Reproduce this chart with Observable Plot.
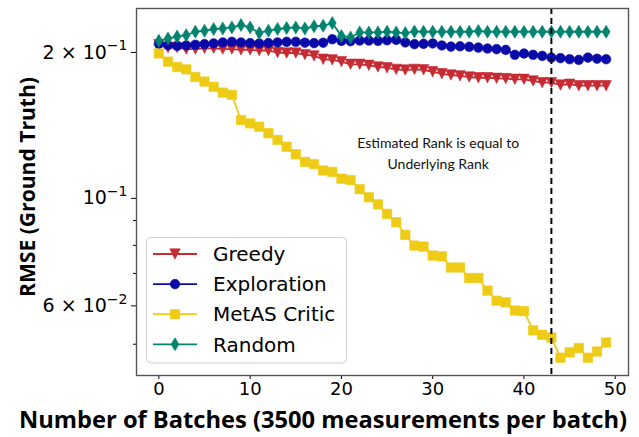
<!DOCTYPE html>
<html><head><meta charset="utf-8">
<script src="https://cdn.jsdelivr.net/npm/d3@7"></script>
<script src="https://cdn.jsdelivr.net/npm/@observablehq/plot@0.6"></script>
<style>
body{margin:0;background:#fff;}
#chart{width:639px;height:437px;}
</style></head><body><div id="chart"></div>
<script>
// ---- data ----
const batches = d3.range(50);
const greedy = [0.2075,0.2047,0.2047,0.2032,0.2032,0.2040,0.2040,0.2032,0.2032,0.2025,
  0.2025,0.2019,0.2019,0.2000,0.1995,0.1995,0.1980,0.1968,0.1937,0.1931,
  0.1915,0.1891,0.1891,0.1882,0.1867,0.1860,0.1846,0.1840,0.1846,0.1842,
  0.1825,0.1808,0.1797,0.1790,0.1780,0.1774,0.1774,0.1769,0.1767,0.1761,
  0.1761,0.1747,0.1733,0.1733,0.1714,0.1720,0.1708,0.1708,0.1708,0.1708];
const exploration = [0.2084,0.2071,0.2064,0.2068,0.2075,0.2081,0.2088,0.2098,0.2104,0.2098,
  0.2091,0.2088,0.2091,0.2098,0.2104,0.2104,0.2095,0.2091,0.2095,0.2130,
  0.2114,0.2110,0.2117,0.2117,0.2114,0.2120,0.2124,0.2098,0.2081,0.2084,
  0.2088,0.2068,0.2057,0.2060,0.2055,0.2047,0.2038,0.2032,0.2025,0.1978,
  0.1990,0.1978,0.1968,0.1952,0.1947,0.1937,0.1931,0.1952,0.1942,0.1937];
const metasCritic = [0.1991,0.1915,0.1867,0.1846,0.1780,0.1742,0.1699,0.1653,0.1635,0.1451,
  0.1428,0.1405,0.1363,0.1320,0.1278,0.1233,0.1189,0.1177,0.1142,0.1134,
  0.1098,0.1091,0.1045,0.1005,0.0972,0.0929,0.0893,0.0841,0.0799,0.0795,
  0.0762,0.0759,0.0720,0.0720,0.0685,0.0685,0.0645,0.0615,0.0610,0.0587,
  0.0585,0.0534,0.0523,0.0516,0.0469,0.0481,0.0491,0.0469,0.0483,0.0504];
const random = [0.2114,0.2137,0.2158,0.2172,0.2207,0.2218,0.2236,0.2242,0.2253,0.2278,
  0.2253,0.2195,0.2218,0.2236,0.2247,0.2253,0.2242,0.2265,0.2271,0.2300,
  0.2164,0.2148,0.2200,0.2200,0.2200,0.2207,0.2200,0.2193,0.2210,0.2207,
  0.2207,0.2207,0.2207,0.2207,0.2207,0.2215,0.2207,0.2207,0.2207,0.2207,
  0.2207,0.2207,0.2207,0.2207,0.2207,0.2207,0.2207,0.2207,0.2207,0.2207];
const seriesNames = ["Greedy","Exploration","MetAS Critic","Random"];
const seriesColors = ["#c62a33","#0a0aa8","#eecb16","#00846f"];
const xTicks = [0,10,20,30,40,50];
const yMajorTicks = [0.2,0.1,0.06];
const yMajorLabels = ["2 × 10^−1","10^−1","6 × 10^−2"];
const yMinorTicks = [0.05,0.07,0.08,0.09];
const rankBatch = 43;
const annotationText = "Estimated Rank is equal to\nUnderlying Rank";
const annotationAt = {x: 30.6, y: 0.1250};
const xLabel = "Number of Batches (3500 measurements per batch)";
const yLabel = "RMSE (Ground Truth)";

// ---- marker symbols ----
const half = size => Math.sqrt(size / Math.PI);
const symTriDown = {draw(c, size){const s=half(size); c.moveTo(-s,-s); c.lineTo(s,-s); c.lineTo(0,s); c.closePath();}};
const symCircle = {draw(c, size){const s=half(size); c.moveTo(s,0); c.arc(0,0,s,0,2*Math.PI);}};
const symSquare = {draw(c, size){const s=half(size); c.moveTo(-s,-s); c.lineTo(s,-s); c.lineTo(s,s); c.lineTo(-s,s); c.closePath();}};
const symThinDiamond = {draw(c, size){const s=half(size); c.moveTo(0,-1.25*s); c.lineTo(0.75*s,0); c.lineTo(0,1.25*s); c.lineTo(-0.75*s,0); c.closePath();}};
const seriesSymbols = [symTriDown, symCircle, symSquare, symThinDiamond];
const seriesR = [5.2, 4.8, 4.7, 5.2];
const seriesValues = [greedy, exploration, metasCritic, random];

const series = seriesNames.map((name, k) => ({
  name, color: seriesColors[k], symbol: seriesSymbols[k], r: seriesR[k],
  rows: batches.map((b, i) => ({batch: b, value: seriesValues[k][i]}))
}));

const labelFor = new Map(yMajorTicks.map((t, i) => [t, yMajorLabels[i]]));

const marks = [
  Plot.axisX({ticks: xTicks, tickSize: 4, tickPadding: 3, label: null, fontSize: 18}),
  Plot.axisY({ticks: yMajorTicks, tickFormat: d => labelFor.get(d), tickSize: 5, tickPadding: 4, label: null, fontSize: 19}),
  Plot.axisY({ticks: yMinorTicks, tickFormat: () => "", tickSize: 3, label: null}),
];
for (const s of series) {
  marks.push(Plot.line(s.rows, {x: "batch", y: "value", stroke: s.color, strokeWidth: 1.8}));
  marks.push(Plot.dot(s.rows, {x: "batch", y: "value", fill: s.color, stroke: s.color, strokeWidth: 0.6, symbol: s.symbol, r: s.r}));
}
marks.push(Plot.ruleX([rankBatch], {stroke: "#000", strokeWidth: 2, strokeDasharray: "6,4"}));
marks.push(Plot.text([annotationAt], {x: "x", y: "y", text: () => annotationText, fontSize: 14, lineHeight: 1.5, fontFamily: "Lato", fill: "#111", textAnchor: "middle"}));
marks.push(Plot.frame({stroke: "#555", strokeWidth: 1.4}));

const chart = Plot.plot({
  width: 639, height: 437,
  marginLeft: 136, marginRight: 11, marginTop: 8, marginBottom: 62,
  style: {fontFamily: "DejaVu Sans", color: "#000", background: "#fff"},
  x: {domain: [-2.45, 51.45]},
  y: {type: "log", domain: [0.0431, 0.2465]},
  marks
});

const svg = d3.select(chart);
// superscript tick labels (mathtext-like)
svg.selectAll('g[aria-label="y-axis tick label"] text').each(function() {
  const t = d3.select(this); const str = t.text();
  if (!str.includes("^")) return;
  const [base, exp] = str.split("^");
  t.text(null);
  t.append("tspan").text(base);
  t.append("tspan").attr("font-size", "14px").attr("dy", "-0.6em").text(exp);
});

// axis titles
svg.append("text").attr("x", 323).attr("y", 428).attr("text-anchor", "middle")
  .attr("font-family", "Open Sans").attr("font-weight", "bold").attr("font-size", 23)
  .attr("textLength", 608).attr("lengthAdjust", "spacingAndGlyphs").attr("fill", "#000").text(xLabel);
svg.append("text").attr("transform", "translate(35,187) rotate(-90)").attr("text-anchor", "middle")
  .attr("font-family", "Open Sans").attr("font-weight", "bold").attr("font-size", 21.5)
  .attr("textLength", 220).attr("lengthAdjust", "spacingAndGlyphs").attr("fill", "#000").text(yLabel);

// legend
const lg = svg.append("g").attr("text-anchor", "start");
lg.append("rect").attr("x", 146.5).attr("y", 237.5).attr("width", 200).attr("height", 125.5).attr("rx", 4)
  .attr("fill", "#fff").attr("fill-opacity", 0.85).attr("stroke", "#d0d0d0");
series.forEach((s, k) => {
  const cy = 254 + k * 30.1;
  lg.append("line").attr("x1", 153).attr("x2", 197).attr("y1", cy).attr("y2", cy).attr("stroke", s.color).attr("stroke-width", 1.8);
  const p = d3.path(); s.symbol.draw(p, Math.PI * s.r * s.r);
  lg.append("path").attr("d", p.toString()).attr("transform", `translate(175,${cy})`).attr("fill", s.color).attr("stroke", s.color).attr("stroke-width", 0.6);
  lg.append("text").attr("x", 213).attr("y", cy).attr("dy", "0.36em").attr("text-anchor", "start").attr("font-family", "DejaVu Sans").attr("font-size", 20).attr("fill", "#000").text(s.name);
});

document.getElementById("chart").appendChild(chart);
</script></body></html>
